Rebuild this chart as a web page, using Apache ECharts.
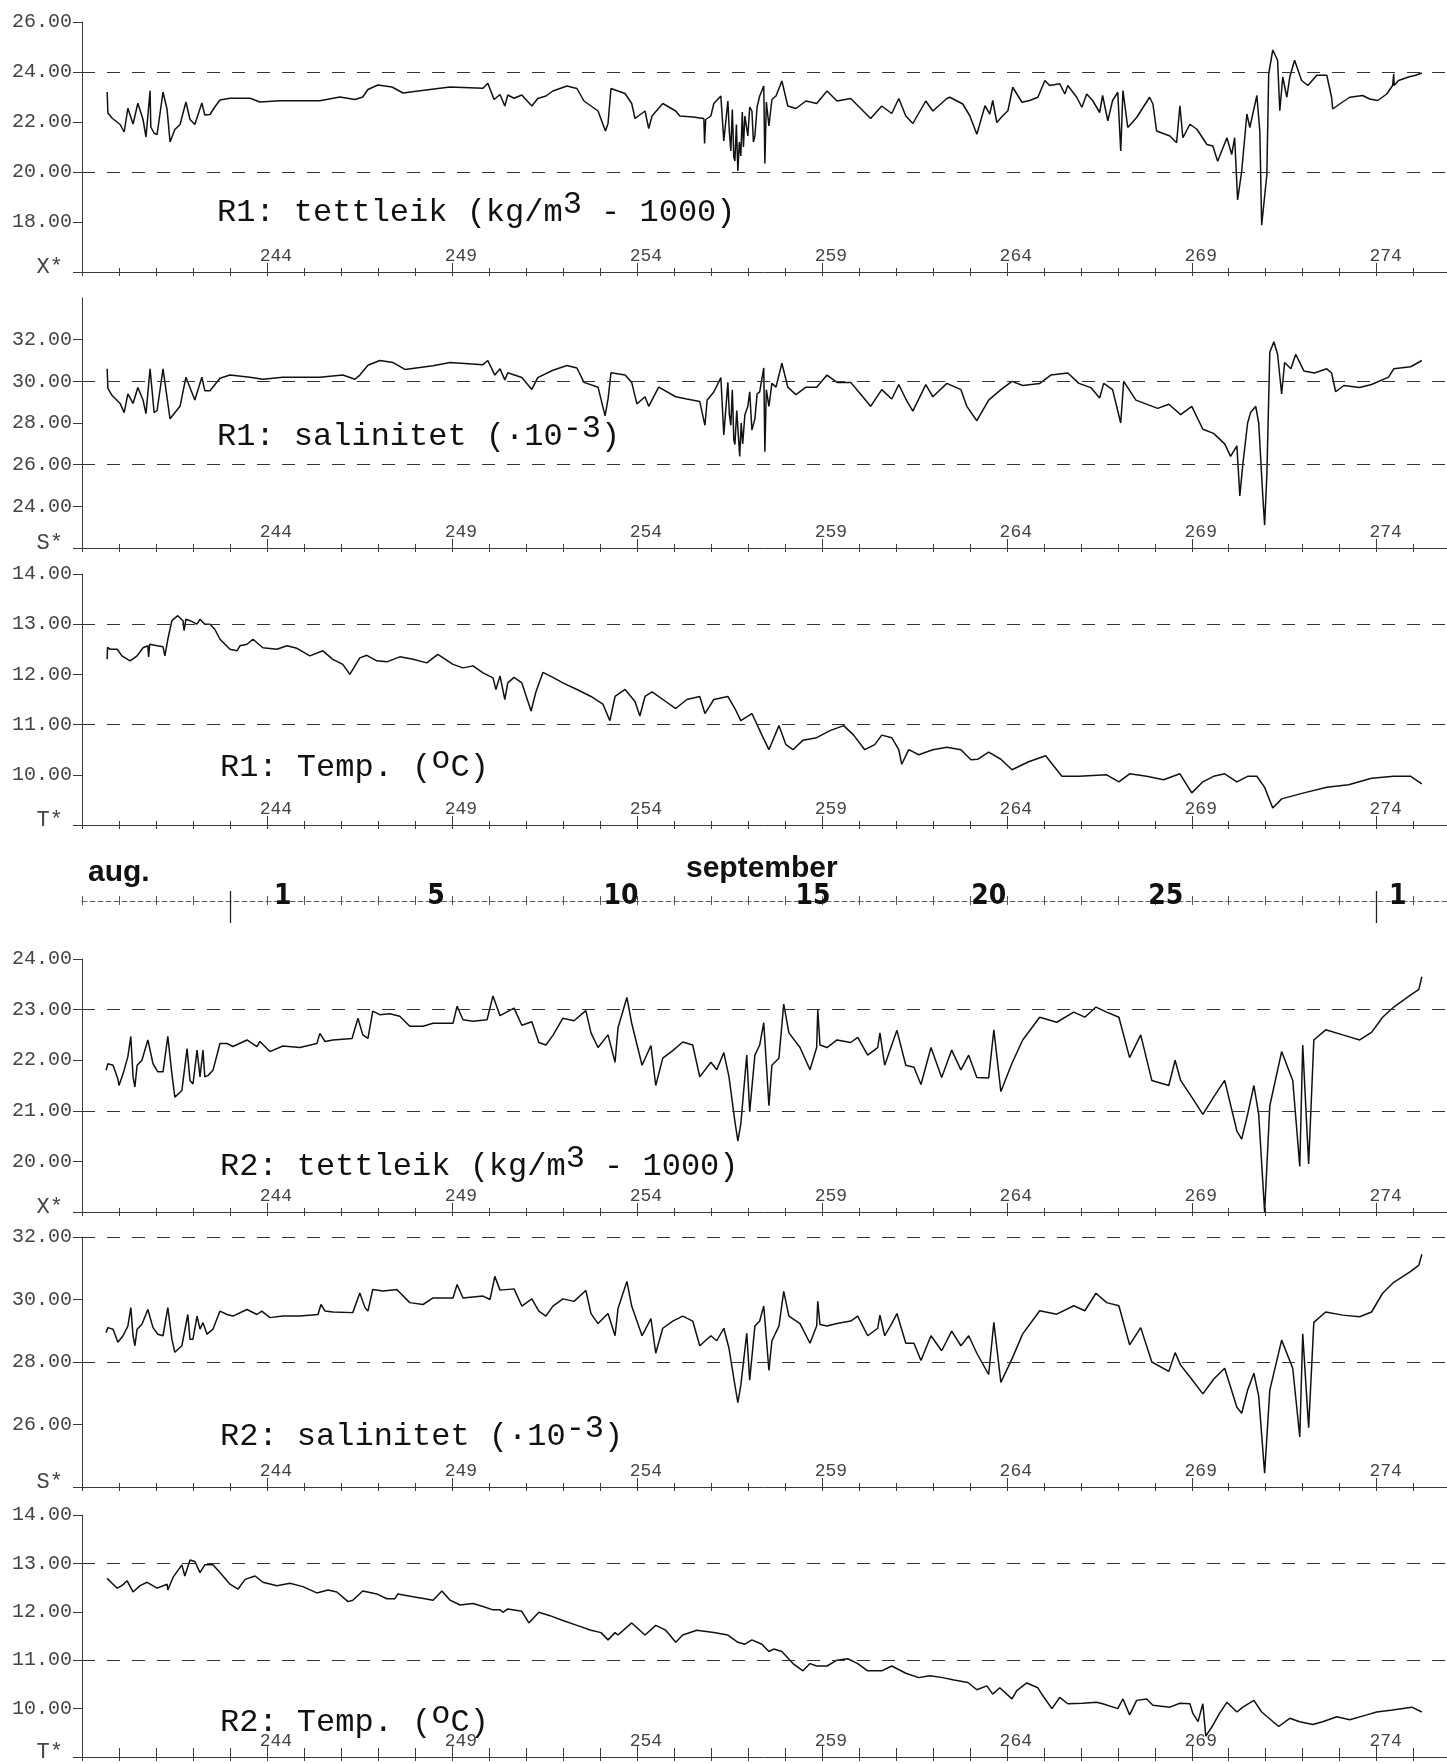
<!DOCTYPE html>
<html><head><meta charset="utf-8">
<script src="https://cdn.jsdelivr.net/npm/echarts@6/dist/echarts.min.js"></script>
<style>html,body{margin:0;padding:0;background:#fff}#c{width:1447px;height:1763px}</style>
</head><body><div id="c"></div>
<script>
// ---- data: [day of year, value] ----
const r1Density = [[239.68,23.2],[239.70,22.36],[239.81,22.16],[240.03,21.9],[240.14,21.6],[240.24,22.55],[240.38,21.92],[240.51,22.75],[240.65,22.1],[240.73,21.4],[240.84,23.25],[240.86,21.8],[240.95,21.55],[241.03,21.5],[241.19,23.2],[241.30,22.5],[241.38,21.2],[241.51,21.7],[241.65,21.9],[241.81,22.8],[241.92,22.1],[242.05,21.9],[242.24,22.76],[242.32,22.28],[242.46,22.3],[242.59,22.6],[242.73,22.88],[243.00,22.95],[243.54,22.95],[243.81,22.8],[244.35,22.85],[245.43,22.85],[245.97,23.0],[246.38,22.9],[246.59,23.0],[246.73,23.3],[247.00,23.48],[247.38,23.4],[247.68,23.16],[248.14,23.25],[248.95,23.4],[249.84,23.35],[249.97,23.55],[250.14,22.9],[250.30,23.1],
[250.43,22.64],[250.51,23.08],[250.68,22.95],[250.89,23.08],[251.16,22.64],[251.32,22.94],[251.54,23.04],[251.73,23.24],[252.11,23.44],[252.38,23.34],[252.57,22.84],[252.95,22.44],[253.15,21.64],[253.22,21.94],[253.30,23.34],[253.49,23.24],[253.68,23.14],[253.86,22.74],[253.95,22.14],[254.22,22.44],[254.32,21.74],[254.41,22.24],[254.70,22.74],[255.05,22.44],[255.16,22.24],[255.51,22.2],[255.81,22.14],[255.83,21.14],[255.86,22.1],[256.00,22.24],[256.08,22.74],[256.27,23.04],[256.35,21.24],[256.46,22.84],[256.50,21.6],[256.54,20.84],[256.58,22.5],[256.62,20.6],[256.65,20.44],[256.69,21.9],[256.73,20.04],[256.77,21.2],[256.81,20.64],[256.85,22.4],[256.88,21.0],[256.92,22.24],[257.00,21.44],[257.05,22.6],[257.11,22.44],[257.15,21.2],[257.19,21.44],[257.25,22.6],[257.32,23.04],[257.43,23.44],[257.46,20.34],[257.50,22.8],[257.57,21.84],[257.65,22.9],[257.76,23.04],[257.92,23.64],[257.97,23.68],[258.08,22.64],[258.30,22.54],[258.57,22.84],[258.86,22.74],[259.14,23.24],[259.41,22.84],[259.78,22.94],[260.05,22.54],[260.32,22.14],[260.62,22.64],[260.89,22.34],[261.08,22.94],[261.27,22.24],[261.46,21.94],[261.81,22.84],[262.00,22.44],[262.38,22.94],
[262.46,22.99],[262.81,22.72],[263.00,22.25],[263.19,21.51],[263.32,22.18],[263.41,22.65],[263.54,22.32],[263.62,22.86],[263.73,21.98],[263.89,22.25],[264.03,22.45],[264.16,23.39],[264.41,22.79],[264.62,22.86],[264.84,22.99],[265.03,23.66],[265.16,23.46],[265.43,23.53],[265.57,23.12],[265.65,23.46],[265.89,22.99],[266.03,22.59],[266.16,23.12],[266.32,22.86],[266.51,22.38],[266.59,23.06],[266.73,22.05],[266.86,22.86],[267.00,23.19],[267.08,20.84],[267.14,23.26],[267.27,21.78],[267.51,22.18],[267.86,22.99],[267.95,22.72],[268.05,21.64],[268.41,21.44],[268.59,21.17],[268.68,22.65],[268.76,21.37],[268.95,21.91],[269.14,21.71],[269.41,21.1],[269.57,21.04],[269.70,20.43],[269.95,21.37],[270.08,20.7],[270.16,21.37],[270.24,18.88],[270.35,20.03],[270.49,22.32],[270.57,21.78],[270.76,23.06],[270.84,21.64],[270.89,17.87],[271.03,19.89],[271.08,23.93],[271.19,24.88],[271.32,24.47],[271.38,22.45],[271.46,23.8],[271.57,22.99],[271.65,23.8],[271.78,24.47],[271.97,23.66],[272.14,23.46],[272.38,23.87],[272.65,23.87],[272.78,22.99],[272.81,22.52],[273.00,22.72],[273.27,22.99],[273.62,23.06],[273.81,22.92],[274.03,22.86],[274.27,23.12],[274.43,23.46],[274.46,23.93],[274.47,23.46],[274.59,23.66],[274.86,23.8],[275.05,23.87],[275.22,23.96]];

const r1Salinity = [[239.68,30.6],[239.70,29.66],[239.81,29.33],[240.03,28.94],[240.14,28.5],[240.24,29.4],[240.38,28.94],[240.51,29.7],[240.65,29.1],[240.73,28.45],[240.84,30.6],[240.95,28.5],[241.03,28.6],[241.19,30.6],[241.38,28.2],[241.65,28.8],[241.81,30.2],[242.05,29.1],[242.24,30.2],[242.32,29.55],[242.46,29.55],[242.73,30.15],[243.00,30.3],[243.54,30.2],[243.89,30.1],[244.43,30.2],[245.43,30.2],[246.05,30.3],[246.38,30.1],[246.51,30.3],[246.73,30.77],[247.05,31.0],[247.41,30.9],[247.73,30.57],[248.49,30.75],[248.95,30.9],[249.84,30.8],[249.97,31.0],[250.16,30.3],[250.30,30.6],
[250.43,30.07],[250.51,30.41],[250.89,30.18],[251.16,29.61],[251.32,30.18],[251.73,30.53],[252.11,30.76],[252.38,30.64],[252.57,29.95],[252.95,29.72],[253.14,28.34],[253.22,29.15],[253.30,30.41],[253.68,30.3],[253.86,29.95],[254.00,28.92],[254.22,29.26],[254.32,28.8],[254.59,29.72],[255.05,29.26],[255.35,29.15],[255.70,29.03],[255.84,27.89],[255.90,29.1],[256.08,29.49],[256.27,30.18],[256.35,27.43],[256.46,29.95],[256.50,28.4],[256.54,27.89],[256.58,29.6],[256.62,27.2],[256.65,26.97],[256.70,28.6],[256.78,26.39],[256.82,28.0],[256.86,27.0],[256.92,28.4],[257.00,28.8],[257.05,29.5],[257.11,27.66],[257.19,28.2],[257.25,29.4],[257.32,29.49],[257.43,30.64],[257.46,26.62],[257.50,29.6],[257.57,28.8],[257.65,29.9],[257.76,29.72],[257.92,30.87],[258.08,29.72],[258.30,29.36],[258.57,29.72],[258.86,29.72],[259.14,30.3],[259.41,29.95],[259.78,29.95],[260.05,29.38],[260.32,28.8],[260.62,29.6],[260.89,29.15],[261.08,29.84],[261.27,29.15],[261.46,28.57],[261.81,29.84],[262.00,29.26],[262.38,29.9],[262.76,29.6],[262.92,28.8],[263.19,28.11],
[263.51,29.1],[263.84,29.6],[264.14,30.0],[264.43,29.8],[264.89,29.9],[265.19,30.3],[265.65,30.4],[265.95,29.9],[266.27,29.7],[266.51,29.2],[266.62,29.9],[266.86,29.6],[267.08,28.0],[267.16,30.0],[267.49,29.1],[268.08,28.7],[268.38,28.9],[268.70,28.4],[269.00,28.8],[269.30,27.7],[269.59,27.5],[269.89,27.0],[270.05,26.4],[270.22,26.9],[270.30,24.5],[270.38,26.0],[270.51,28.0],[270.59,28.5],[270.73,28.8],[270.81,28.0],[270.92,24.5],[270.97,23.1],[271.03,25.5],[271.11,31.4],[271.22,31.9],[271.32,31.3],[271.43,29.4],[271.51,30.9],[271.68,30.6],[271.81,31.3],[272.03,30.5],[272.32,30.4],[272.65,30.6],[272.78,30.4],[272.89,29.5],[273.11,29.8],[273.54,29.7],[273.86,29.85],[274.32,30.2],[274.46,30.6],[274.92,30.7],[275.22,31.0]];

const r1Temp = [[239.68,12.3],[239.69,12.54],[239.76,12.5],[239.95,12.5],[240.08,12.37],[240.30,12.27],[240.49,12.37],[240.65,12.53],[240.78,12.57],[240.80,12.35],[240.83,12.6],[241.03,12.57],[241.19,12.55],[241.24,12.37],[241.32,12.7],[241.43,13.07],[241.59,13.17],[241.73,13.07],[241.76,12.87],[241.81,13.1],[241.92,13.07],[242.11,13.0],[242.19,13.1],[242.32,13.0],[242.46,13.0],[242.59,12.9],[242.73,12.7],[243.00,12.5],[243.19,12.47],[243.27,12.57],[243.46,12.6],[243.62,12.7],[243.89,12.53],[244.27,12.5],[244.54,12.57],[244.81,12.52],[245.16,12.37],[245.51,12.47],[245.78,12.3],[246.05,12.2],[246.24,12.0],[246.51,12.33],[246.70,12.38],[246.97,12.27],[247.24,12.25],[247.59,12.35],[247.95,12.3],[248.32,12.23],[248.62,12.4],[249.03,12.2],[249.30,12.13],[249.57,12.17],[249.84,12.03],[250.11,11.93],[250.19,11.7],[250.30,11.97],
[250.43,11.5],[250.51,11.83],[250.68,11.94],[250.89,11.83],[251.14,11.27],[251.27,11.65],[251.46,12.04],[251.73,11.94],[252.00,11.83],[252.38,11.7],[252.76,11.56],[253.08,11.41],[253.27,11.08],[253.41,11.56],[253.68,11.7],[253.95,11.46],[254.08,11.17],[254.22,11.56],[254.41,11.65],[254.78,11.46],[255.05,11.32],[255.35,11.5],[255.70,11.56],[255.84,11.22],[256.08,11.5],[256.46,11.56],[256.65,11.32],[256.81,11.08],[257.11,11.22],[257.38,10.79],[257.57,10.5],[257.84,10.98],[258.03,10.6],[258.22,10.5],[258.49,10.69],[258.86,10.74],[259.22,10.88],[259.59,10.98],[259.86,10.79],[260.16,10.5],[260.43,10.6],[260.62,10.79],[260.89,10.74],[261.08,10.5],[261.16,10.21],[261.35,10.5],[261.62,10.4],[262.00,10.5],[262.38,10.55],[262.76,10.5],[263.03,10.3],
[263.22,10.31],[263.51,10.45],[263.84,10.31],[264.14,10.1],[264.59,10.26],[265.05,10.38],[265.49,9.97],[265.95,9.97],[266.70,10.0],[267.03,9.86],[267.32,10.02],[267.78,9.97],[268.24,9.9],[268.68,10.02],[269.00,9.64],[269.30,9.86],[269.59,9.97],[269.89,10.02],[270.22,9.86],[270.51,9.97],[270.76,9.97],[270.97,9.75],[271.19,9.34],[271.43,9.52],[272.03,9.64],[272.65,9.75],[273.24,9.8],[273.86,9.93],[274.46,9.97],[274.92,9.97],[275.22,9.82]];

const r2Density = [[239.65,21.8],[239.70,21.93],[239.84,21.9],[239.97,21.63],[240.00,21.5],[240.11,21.73],[240.24,22.07],[240.32,22.47],[240.38,21.67],[240.43,21.47],[240.49,21.9],[240.62,22.0],[240.78,22.4],[240.92,21.93],[241.05,21.77],[241.19,21.77],[241.32,22.47],[241.43,21.73],[241.51,21.27],[241.70,21.4],[241.84,22.23],[241.92,21.6],[242.00,21.53],[242.11,22.2],[242.19,21.67],[242.27,22.2],[242.32,21.67],[242.41,21.7],[242.54,21.8],[242.73,22.33],[242.92,22.33],[243.08,22.27],[243.46,22.4],[243.73,22.27],[243.81,22.37],[244.08,22.17],[244.43,22.28],[244.89,22.25],[245.35,22.33],[245.43,22.53],[245.57,22.37],[245.78,22.4],[246.30,22.43],[246.46,22.83],[246.59,22.5],[246.73,22.43],[246.86,22.97],[247.05,22.9],[247.32,22.92],[247.59,22.87],[247.86,22.67],[248.22,22.67],[248.49,22.73],[249.03,22.73],[249.14,23.07],[249.30,22.8],[249.57,22.77],[249.95,22.8],[250.11,23.27],[250.30,22.88],
[250.68,23.03],[250.89,22.69],[251.16,22.76],[251.35,22.35],[251.54,22.3],[251.73,22.49],[252.00,22.83],[252.30,22.78],[252.62,22.98],[252.76,22.54],[252.95,22.25],[253.22,22.5],[253.41,21.96],[253.49,22.64],[253.73,23.24],[253.86,22.73],[254.14,21.9],[254.38,22.29],[254.51,21.5],[254.70,22.04],[254.97,22.19],[255.24,22.36],[255.51,22.3],[255.70,21.67],[256.00,21.96],[256.16,21.81],[256.35,22.15],[256.49,21.67],[256.65,20.79],[256.73,20.4],[256.81,20.74],[256.97,22.1],[257.05,20.98],[257.19,22.1],[257.32,22.3],[257.43,22.74],[257.57,21.1],[257.65,21.9],[257.84,22.04],[257.97,23.11],[258.11,22.54],[258.41,22.25],[258.68,21.81],[258.86,22.25],[258.89,22.99],[258.95,22.3],[259.14,22.25],[259.41,22.4],[259.78,22.35],[259.97,22.45],[260.24,22.1],[260.51,22.25],[260.57,22.54],[260.70,21.9],[260.89,22.3],[261.03,22.59],[261.27,21.9],[261.49,21.86],[261.68,21.52],[261.95,22.25],[262.24,21.66],[262.51,22.2],[262.76,21.81],[262.97,22.1],[263.19,21.66],
[263.51,21.65],[263.65,22.6],[263.84,21.38],[264.14,21.94],[264.43,22.4],[264.89,22.85],[265.35,22.75],[265.81,22.95],[266.11,22.85],[266.41,23.05],[266.70,22.95],[267.03,22.85],[267.32,22.05],[267.62,22.5],[267.92,21.6],[268.38,21.5],[268.55,22.0],[268.70,21.6],[269.00,21.27],[269.30,20.93],[269.59,21.27],[269.89,21.6],[270.22,20.6],[270.35,20.44],[270.51,20.93],[270.68,21.5],[270.81,20.93],[270.97,19.0],[271.11,21.1],[271.43,22.17],[271.73,21.6],[271.92,19.9],[272.00,22.3],[272.16,19.95],[272.30,22.4],[272.62,22.6],[273.08,22.5],[273.54,22.4],[273.86,22.55],[274.16,22.85],[274.46,23.05],[274.92,23.29],[275.14,23.4],[275.22,23.65]];

const r2Salinity = [[239.65,28.94],[239.70,29.1],[239.84,29.05],[239.97,28.63],[240.11,28.84],[240.24,29.15],[240.32,29.74],[240.38,28.84],[240.43,28.52],[240.49,29.05],[240.62,29.21],[240.78,29.68],[240.92,29.1],[241.05,28.89],[241.19,28.84],[241.32,29.74],[241.43,28.73],[241.51,28.31],[241.70,28.52],[241.86,29.52],[241.92,28.73],[242.00,28.73],[242.11,29.47],[242.19,29.05],[242.27,29.26],[242.38,28.89],[242.54,29.05],[242.73,29.63],[242.92,29.52],[243.08,29.47],[243.46,29.68],[243.73,29.52],[243.86,29.63],[244.08,29.42],[244.43,29.47],[244.89,29.47],[245.38,29.52],[245.46,29.84],[245.57,29.63],[245.78,29.6],[246.32,29.58],[246.51,30.21],[246.65,29.74],[246.73,29.63],[246.86,30.32],[247.14,30.27],[247.51,30.32],[247.86,29.9],[248.22,29.84],[248.49,30.05],[249.03,30.05],[249.14,30.48],[249.30,30.05],[249.84,30.11],[250.03,30.0],[250.16,30.74],[250.30,30.3],
[250.68,30.34],[250.89,29.79],[251.16,30.02],[251.35,29.63],[251.54,29.47],[251.73,29.79],[252.00,30.02],[252.30,29.94],[252.62,30.29],[252.76,29.55],[252.95,29.23],[253.22,29.55],[253.41,28.84],[253.49,29.71],[253.73,30.58],[253.86,29.79],[254.14,28.84],[254.38,29.39],[254.51,28.28],[254.70,29.08],[254.97,29.31],[255.24,29.47],[255.51,29.31],[255.70,28.52],[256.00,28.84],[256.16,28.68],[256.35,29.08],[256.49,28.44],[256.65,27.26],[256.73,26.7],[256.81,27.26],[256.97,28.92],[257.05,27.42],[257.19,29.15],[257.32,29.31],[257.43,29.79],[257.57,27.73],[257.65,28.68],[257.84,29.15],[257.97,30.26],[258.11,29.47],[258.41,29.23],[258.68,28.6],[258.86,29.15],[258.89,29.94],[258.95,29.2],[259.14,29.15],[259.41,29.23],[259.78,29.31],[259.97,29.47],[260.24,28.84],[260.51,29.08],[260.57,29.5],[260.70,28.84],[260.89,29.23],[261.03,29.55],[261.27,28.6],[261.49,28.6],[261.68,28.05],[261.95,28.84],[262.24,28.36],[262.51,28.99],[262.76,28.52],[262.97,28.84],[263.19,28.28],
[263.51,27.6],[263.65,29.27],[263.84,27.35],[264.14,28.1],[264.43,28.9],[264.89,29.64],[265.35,29.53],[265.81,29.8],[266.11,29.64],[266.41,30.2],[266.70,29.9],[267.03,29.8],[267.32,28.55],[267.62,29.1],[267.92,28.0],[268.38,27.7],[268.55,28.3],[268.70,27.9],[269.00,27.45],[269.30,26.98],[269.59,27.45],[269.89,27.8],[270.22,26.55],[270.35,26.36],[270.51,27.1],[270.68,27.64],[270.81,26.9],[270.97,24.44],[271.11,27.1],[271.43,28.7],[271.73,27.8],[271.92,25.6],[272.00,28.9],[272.16,25.9],[272.30,29.27],[272.62,29.6],[273.08,29.5],[273.54,29.45],[273.86,29.6],[274.16,30.2],[274.46,30.55],[274.92,30.9],[275.14,31.1],[275.22,31.45]];

const r2Temp = [[239.68,12.69],[239.84,12.57],[239.95,12.49],[240.08,12.54],[240.22,12.64],[240.38,12.41],[240.57,12.54],[240.76,12.61],[241.03,12.49],[241.30,12.57],[241.32,12.45],[241.46,12.71],[241.70,12.97],[241.78,12.74],[241.92,13.07],[242.05,13.04],[242.19,12.81],[242.32,12.97],[242.54,12.97],[242.73,12.81],[243.00,12.57],[243.22,12.47],[243.41,12.67],[243.68,12.74],[243.89,12.61],[244.27,12.54],[244.62,12.59],[244.97,12.52],[245.35,12.39],[245.65,12.45],[245.89,12.41],[246.19,12.21],[246.32,12.24],[246.59,12.43],[246.97,12.37],[247.24,12.27],[247.46,12.27],[247.54,12.37],[247.95,12.31],[248.27,12.27],[248.49,12.24],[248.73,12.43],[248.95,12.24],[249.22,12.14],[249.57,12.17],[249.84,12.11],[250.11,12.04],[250.30,12.04],
[250.38,11.99],[250.51,12.06],[250.89,12.01],[251.08,11.77],[251.35,11.99],[251.65,11.92],[252.00,11.82],[252.38,11.72],[252.76,11.62],[253.03,11.57],[253.22,11.42],[253.41,11.57],[253.49,11.52],[253.86,11.77],[254.22,11.52],[254.51,11.72],[254.78,11.62],[255.05,11.37],[255.24,11.52],[255.62,11.62],[256.08,11.57],[256.46,11.52],[256.73,11.37],[256.92,11.33],[257.11,11.42],[257.38,11.33],[257.57,11.18],[257.70,11.23],[257.92,11.18],[258.22,10.93],[258.49,10.78],[258.68,10.93],[258.86,10.88],[259.14,10.88],[259.41,11.0],[259.70,11.03],[259.97,10.93],[260.24,10.78],[260.62,10.78],[260.89,10.88],[261.27,10.73],[261.62,10.64],[261.92,10.68],[262.27,10.64],[262.57,10.59],[262.95,10.54],[263.19,10.39],
[263.46,10.47],[263.62,10.3],[263.81,10.43],[264.14,10.2],[264.27,10.37],[264.54,10.53],[264.84,10.43],[264.97,10.27],[265.22,10.0],[265.43,10.23],[265.65,10.1],[266.05,10.11],[266.43,10.13],[266.59,10.1],[267.00,10.0],[267.14,10.2],[267.32,9.87],[267.51,10.17],[267.78,10.2],[267.95,10.07],[268.41,10.03],[268.68,10.11],[268.95,10.1],[269.03,9.9],[269.17,9.73],[269.30,10.1],[269.38,9.43],[269.55,9.63],[269.75,9.9],[269.95,10.13],[270.22,9.93],[270.38,10.03],[270.68,10.17],[270.89,9.93],[271.35,9.63],[271.65,9.8],[271.92,9.73],[272.27,9.67],[272.54,9.73],[272.92,9.83],[273.27,9.77],[273.73,9.87],[274.00,9.93],[274.43,9.97],[274.95,10.03],[275.22,9.93]];

// ---- axes ----
const dayLabels = [244, 249, 254, 259, 264, 269, 274];
const dateLabelDays = [244.43, 248.57, 253.57, 258.76, 263.51, 268.30, 274.57];
const dateLabelTexts = ['1', '5', '10', '15', '20', '25', '1'];
const monthTickDays = [243, 274];
const yMins = [16, 22, 9, 19, 24, 9];
const yMaxs = [26, 34, 14, 24, 32, 14];
const yTickVals = [[16,18,20,22,24,26],[22,24,26,28,30,32],[9,10,11,12,13,14],[19,20,21,22,23,24],[24,26,28,30,32],[9,10,11,12,13,14]];
const yLabelVals = [[18,20,22,24,26],[24,26,28,30,32],[10,11,12,13,14],[20,21,22,23,24],[26,28,30,32],[10,11,12,13,14]];
const dashedVals = [[24,20],[30,26],[13,11],[23,21],[32,28],[13,11]];
const axisSymbols = ['X*','S*','T*','X*','S*','T*'];
const titleTexts = [
  '{n|R1: tettleik (kg/m}{s|3}{n| - 1000)}',
  '{n|R1: salinitet (·10}{s|-3}{n|)}',
  '{n|R1: Temp. (}{s|o}{n|C)}',
  '{n|R2: tettleik (kg/m}{s|3}{n| - 1000)}',
  '{n|R2: salinitet (·10}{s|-3}{n|)}',
  '{n|R2: Temp. (}{s|o}{n|C)}'
];

// ---- layout ----
const X_MIN = 239, X_MAX = 275.9;
const gridLeft = 82, gridWidth = 1365;
const gridTops = [22, 298, 574, 959, 1237, 1515];
const gridHeights = [250, 250, 251, 253, 250, 247];
const titleLefts = [217, 217, 220, 220, 220, 220];
const titleCenters = [213, 437, 768, 1167, 1437, 1723];

const allDays = [];
for (let d = 239; d <= 275; d++) allDays.push(d);

const seriesData = [r1Density, r1Salinity, r1Temp, r2Density, r2Salinity, r2Temp];
const MONO = "'Liberation Mono','DejaVu Sans Mono',monospace";
const axisGray = '#3a3a3a';

const grid = [], xAxis = [], yAxis = [], series = [], title = [];
for (let i = 0; i < 6; i++) {
  grid.push({left: gridLeft, width: gridWidth, top: gridTops[i], height: gridHeights[i]});
  const mn = yMins[i];
  const sym = axisSymbols[i];
  xAxis.push({
    gridIndex: i, type: 'value', position: 'bottom', min: X_MIN, max: X_MAX,
    axisLine: {show: true, onZero: false, lineStyle: {color: axisGray, width: 1}},
    axisTick: {show: true, customValues: allDays, inside: false, length: 4, lineStyle: {color: axisGray, width: 1}},
    axisLabel: {show: true, customValues: dayLabels, inside: true, margin: 7, fontFamily: MONO, fontSize: 18, color: '#444', padding: [0, 0, 0, 18]},
    splitLine: {show: false}
  });
  xAxis.push({
    gridIndex: i, type: 'value', position: 'bottom', min: X_MIN, max: X_MAX,
    axisLine: {show: false},
    axisTick: {show: true, customValues: allDays, inside: true, length: i === 5 ? 9 : 4, lineStyle: {color: axisGray, width: 1}},
    axisLabel: {show: false}, splitLine: {show: false}
  });
  xAxis.push({
    gridIndex: i, type: 'value', position: 'bottom', min: X_MIN, max: X_MAX,
    axisLine: {show: false},
    axisTick: {show: true, customValues: dayLabels, inside: true, length: i === 5 ? 12 : 9, lineStyle: {color: axisGray, width: 1}},
    axisLabel: {show: false}, splitLine: {show: false}
  });
  yAxis.push({
    gridIndex: i, type: 'value', min: mn, max: yMaxs[i],
    axisLine: {show: true, onZero: false, lineStyle: {color: axisGray, width: 1}},
    axisTick: {show: true, customValues: yTickVals[i], length: 9, lineStyle: {color: axisGray, width: 1}},
    axisLabel: {
      show: true, customValues: [mn].concat(yLabelVals[i]), margin: 10,
      fontFamily: MONO, fontSize: 20, color: '#444',
      formatter: v => v === mn ? '{m|' + sym + '}' : v.toFixed(2),
      rich: {m: {fontFamily: MONO, fontSize: 22, color: '#444', padding: [0, 9, 10, 0]}}
    },
    splitLine: {show: false}
  });
  series.push({
    type: 'line', xAxisIndex: 3 * i, yAxisIndex: i, data: seriesData[i],
    showSymbol: false, symbol: 'none', animation: false,
    lineStyle: {color: '#111', width: 1.5},
    markLine: {
      silent: true, symbol: ['none', 'none'], animation: false,
      label: {show: false},
      lineStyle: {color: '#333', width: 1.1, type: [13, 12]},
      data: dashedVals[i].map(v => ({yAxis: v}))
    }
  });
  title.push({
    text: titleTexts[i], left: titleLefts[i], top: titleCenters[i] - 24, padding: 0,
    textStyle: {fontWeight: 'normal', rich: {
      n: {fontFamily: MONO, fontWeight: 'normal', fontSize: 32, lineHeight: 48, color: '#111'},
      s: {fontFamily: MONO, fontWeight: 'normal', fontSize: 32, lineHeight: 20, verticalAlign: 'top', color: '#111'}
    }}
  });
}

// date strip
grid.push({left: gridLeft, width: gridWidth, top: 860, height: 41});
yAxis.push({gridIndex: 6, type: 'value', min: 0, max: 1, show: false});
const DATEFONT = "'Liberation Sans Narrow','DejaVu Sans Condensed','Liberation Sans',sans-serif";
xAxis.push({
  gridIndex: 6, type: 'value', position: 'bottom', min: X_MIN, max: X_MAX,
  axisLine: {show: true, onZero: false, lineStyle: {color: '#666', width: 1, type: [5, 3]}},
  axisTick: {show: true, customValues: allDays, inside: false, length: 4, lineStyle: {color: '#555'}},
  axisLabel: {
    show: true, customValues: dateLabelDays, margin: -4, verticalAlign: 'middle',
    fontFamily: DATEFONT, fontWeight: 'bold', fontSize: 28, color: '#111',
    formatter: v => dateLabelTexts[dateLabelDays.indexOf(v)]
  },
  splitLine: {show: false}
});
xAxis.push({
  gridIndex: 6, type: 'value', position: 'bottom', min: X_MIN, max: X_MAX,
  axisLine: {show: false},
  axisTick: {show: true, customValues: allDays, inside: true, length: 5, lineStyle: {color: '#555'}},
  axisLabel: {show: false}, splitLine: {show: false}
});
xAxis.push({
  gridIndex: 6, type: 'value', position: 'bottom', min: X_MIN, max: X_MAX,
  axisLine: {show: false},
  axisTick: {show: true, customValues: monthTickDays, inside: false, length: 22, lineStyle: {color: '#222', width: 1.3}},
  axisLabel: {show: false}, splitLine: {show: false}
});
xAxis.push({
  gridIndex: 6, type: 'value', position: 'bottom', min: X_MIN, max: X_MAX,
  axisLine: {show: false},
  axisTick: {show: true, customValues: monthTickDays, inside: true, length: 10, lineStyle: {color: '#222', width: 1.3}},
  axisLabel: {show: false}, splitLine: {show: false}
});
series.push({type: 'line', xAxisIndex: 18, yAxisIndex: 6, data: [], silent: true});

title.push({text: 'aug.', left: 88, top: 856, padding: 0,
  textStyle: {fontFamily: "'Liberation Sans',Arial,sans-serif", fontWeight: 'bold', fontSize: 30, lineHeight: 34, color: '#111'}});
title.push({text: 'september', left: 686, top: 852, padding: 0,
  textStyle: {fontFamily: "'Liberation Sans',Arial,sans-serif", fontWeight: 'bold', fontSize: 30, lineHeight: 34, color: '#111'}});

const chart = echarts.init(document.getElementById('c'), null, {renderer: 'canvas', width: 1447, height: 1763});
chart.setOption({
  backgroundColor: '#ffffff',
  animation: false,
  title: title,
  grid: grid,
  xAxis: xAxis,
  yAxis: yAxis,
  series: series
});
</script>
</body></html>
